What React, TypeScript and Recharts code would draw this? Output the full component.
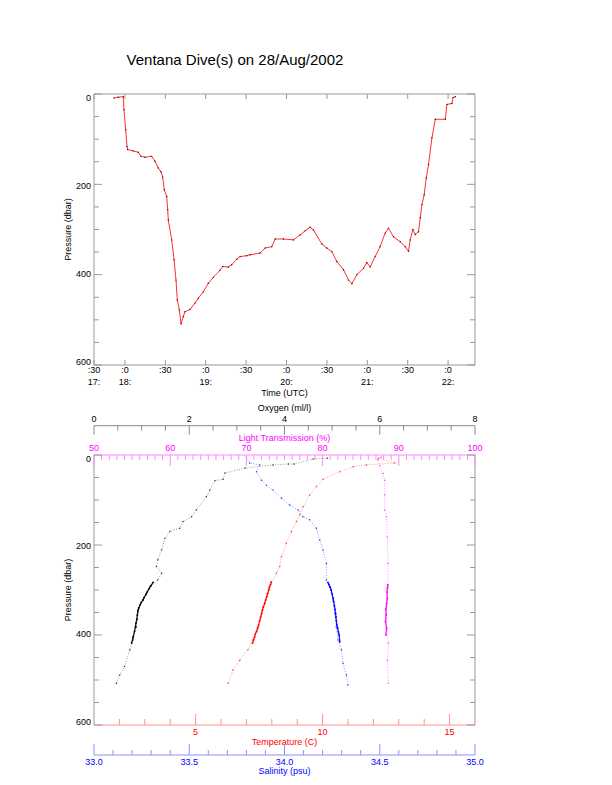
import React from 'react';
import { ComposedChart, Line, Scatter, XAxis, YAxis, Label } from 'recharts';

const FONT = "'Liberation Sans', Arial, Helvetica, sans-serif";
const FRAME = '#999999';

// ---------- top panel: dive track ----------
const diveTime = [
  17.864, 17.917, 17.979, 17.988, 18.009, 18.025, 18.033, 18.103, 18.165, 18.198,
  18.248, 18.331, 18.372, 18.413, 18.446, 18.467, 18.487, 18.517, 18.529, 18.537,
  18.579, 18.608, 18.632, 18.648, 18.673, 18.694, 18.722, 18.743, 18.805, 18.867,
  18.908, 18.97, 19.032, 19.094, 19.177, 19.21, 19.28, 19.322, 19.384, 19.425,
  19.508, 19.549, 19.673, 19.735, 19.818, 19.859, 19.962, 20.086, 20.169, 20.23,
  20.292, 20.333, 20.437, 20.499, 20.561, 20.623, 20.705, 20.767, 20.809, 20.871,
  20.953, 20.994, 21.035, 21.097, 21.159, 21.221, 21.262, 21.324, 21.407, 21.469,
  21.51, 21.531, 21.564, 21.593, 21.634, 21.655, 21.676, 21.704, 21.729, 21.758,
  21.8, 21.841, 21.965, 21.986, 22.048, 22.061, 22.089,
];
const divePressure = [
  9, 7, 6, 35, 79, 116, 123, 126, 129, 138,
  140, 138, 149, 164, 172, 184, 212, 227, 256, 279,
  323, 367, 412, 456, 478, 509, 493, 482, 477, 463,
  452, 438, 419, 406, 390, 382, 383, 378, 366, 360,
  358, 356, 352, 341, 338, 321, 321, 323, 312, 303,
  295, 301, 332, 341, 349, 371, 389, 412, 420, 400,
  386, 373, 383, 360, 338, 308, 297, 316, 327, 338,
  348, 323, 300, 311, 305, 274, 245, 223, 186, 156,
  97, 56, 56, 23, 21, 8, 6,
];

const timeDomain = [17.617, 22.333];
const timeTicks = [17.617, 18, 18.5, 19, 19.5, 20, 20.5, 21, 21.5, 22];
const timeTickMinute = [':30', ':0', ':30', ':0', ':30', ':0', ':30', ':0', ':30', ':0'];
const timeTickHour = ['17:', '18:', '', '19:', '', '20:', '', '21:', '', '22:'];

const pressureTicks = [0, 50, 100, 150, 200, 250, 300, 350, 400, 450, 500, 550, 600];

// ---------- bottom panel: profiles ----------
const oxygenValue = [
  4.9, 4.6, 4.2, 4.08, 3.76, 3.17, 2.75, 2.71, 2.54, 2.43, 2.36, 2.15, 2.05, 1.87, 1.8, 1.59,
  1.49, 1.42, 1.34, 1.31, 1.42, 1.34, 1.17, 1.1, 1.03, 0.92, 0.89, 0.82, 0.75, 0.64, 0.54, 0.47,
];
const oxygenPressure = [
  7, 9, 20, 20, 22, 29, 40, 54, 57, 78, 93, 122, 137, 148, 163, 170,
  185, 211, 233, 248, 263, 278, 293, 307, 322, 344, 382, 411, 433, 470, 489, 507,
];
const oxygenDenseValue = [1.24, 1.2, 1.15, 1.12, 1.09, 1.05, 1.03, 0.99, 0.97, 0.94, 0.92, 0.91, 0.9, 0.88, 0.87, 0.85, 0.82, 0.79];
const oxygenDensePressure = [283, 290, 298, 304, 310, 317, 322, 328, 333, 340, 348, 356, 365, 374, 382, 392, 405, 418];

const temperatureValue = [
  12.2, 12.84, 11.72, 11.2, 10.67, 10.02, 9.76, 9.49, 9.23, 9.1, 8.97, 8.77, 8.57,
  8.38, 8.31, 8.18, 7.92, 7.85, 7.65, 7.46, 7.26, 7.06, 6.74, 6.47, 6.28,
];
const temperaturePressure = [
  7, 18, 22, 26, 37, 54, 70, 89, 115, 133, 148, 170, 196,
  226, 248, 263, 293, 307, 337, 382, 411, 433, 456, 478, 507,
];
const temperatureDenseValue = [7.98, 7.95, 7.9, 7.88, 7.83, 7.8, 7.76, 7.72, 7.67, 7.63, 7.6, 7.56, 7.52, 7.48, 7.44, 7.4, 7.35, 7.32, 7.28, 7.24];
const temperatureDensePressure = [282, 288, 294, 300, 308, 315, 322, 330, 338, 345, 352, 360, 369, 378, 385, 392, 398, 405, 411, 418];

const salinityValue = [
  33.8, 33.817, 33.87, 33.853, 33.879, 33.905, 33.94, 33.984, 34.027, 34.071, 34.097, 34.132, 34.167,
  34.185, 34.202, 34.22, 34.22, 34.237, 34.255, 34.264, 34.272, 34.281, 34.299, 34.307, 34.325, 34.333,
];
const salinityPressure = [
  5, 18, 22, 37, 56, 67, 78, 96, 111, 122, 137, 144, 163,
  189, 211, 241, 278, 293, 322, 352, 382, 411, 433, 463, 489, 511,
];
const salinityDenseValue = [34.228, 34.233, 34.24, 34.245, 34.25, 34.255, 34.258, 34.262, 34.265, 34.268, 34.27, 34.272, 34.275, 34.279, 34.283, 34.287, 34.29];
const salinityDensePressure = [283, 288, 294, 300, 309, 318, 326, 335, 343, 352, 360, 368, 377, 385, 393, 400, 415];

const lightValue = [87.7, 87.23, 87.49, 87.93, 88.15, 88.15, 88.15, 88.37, 88.5, 88.58, 88.58, 88.45, 88.28, 88.37, 88.63, 88.5, 88.63];
const lightPressure = [5, 11, 24, 41, 56, 89, 122, 137, 182, 241, 293, 322, 344, 382, 418, 456, 507];
const lightDenseValue = [88.55, 88.5, 88.45, 88.5, 88.4, 88.3, 88.35, 88.25, 88.4, 88.3];
const lightDensePressure = [288, 296, 305, 318, 330, 342, 355, 370, 385, 400];

const oxygenTicks = [0, 0.5, 1, 1.5, 2, 2.5, 3, 3.5, 4, 4.5, 5, 5.5, 6, 6.5, 7, 7.5, 8];
const oxygenLabels = [0, 2, 4, 6, 8];
const lightTicks = Array.from({ length: 51 }, (_, i) => 50 + i);
const lightLabels = [50, 60, 70, 80, 90, 100];
const temperatureTicks = [2, 3, 4, 5, 6, 7, 8, 9, 10, 11, 12, 13, 14, 15];
const temperatureLabels = [5, 10, 15];
const salinityTicks = Array.from({ length: 21 }, (_, i) => Math.round((33 + i * 0.1) * 10) / 10);
const salinityLabels = [33.0, 33.5, 34.0, 34.5, 35.0];

const zip = (xs: number[], ps: number[], key: string) => xs.map((v, i) => ({ [key]: v, p: ps[i] }));
const diveRows = diveTime.map((t, i) => ({ t, p: divePressure[i] }));

const has = (list: number[], v: number) => list.some((l) => Math.abs(l - v) < 1e-6);

type Side = 'left' | 'right' | 'top' | 'bottom';
interface TickSpec {
  side: Side;
  stroke: string;
  color?: string;
  isMajor: (v: number) => boolean;
  majorLen: number;
  minorLen: number;
  gap?: number;
  shift?: (v: number) => number;
  text?: (v: number) => string[] | null;
}

// tick lines point into the plot, labels sit outside
const makeTick = (spec: TickSpec) => (props: any) => {
  const { x, y, payload } = props;
  const v = payload.value as number;
  const len = spec.isMajor(v) ? spec.majorLen : spec.minorLen;
  let x2 = x;
  let y2 = y;
  if (spec.side === 'left') x2 = x + len;
  if (spec.side === 'right') x2 = x - len;
  if (spec.side === 'top') y2 = y + len;
  if (spec.side === 'bottom') y2 = y - len;
  const lines = spec.text ? spec.text(v) : null;
  const gap = spec.gap ?? 6;
  return (
    <g>
      <line x1={x} y1={y} x2={x2} y2={y2} stroke={spec.stroke} strokeWidth={1} />
      {lines &&
        lines.map((s, k) => {
          let tx = x;
          let ty = y;
          let anchor: 'middle' | 'end' = 'middle';
          if (spec.side === 'left') {
            tx = x - gap;
            ty = y + (spec.shift ? spec.shift(v) : 0);
            anchor = 'end';
          } else if (spec.side === 'bottom') {
            ty = y + gap + k * 12.3;
          } else if (spec.side === 'top') {
            ty = y - gap;
          }
          return (
            <text key={k} x={tx} y={ty} dy="0.35em" textAnchor={anchor} fontSize={9} fontFamily={FONT} fill={spec.color ?? '#000'}>
              {s}
            </text>
          );
        })}
    </g>
  );
};

const pressureLeftTick = makeTick({
  side: 'left',
  stroke: FRAME,
  isMajor: (v) => v % 200 === 0,
  majorLen: 8,
  minorLen: 5,
  gap: 3,
  shift: (v) => ((300 - v) / 300) * 3.5,
  text: (v) => (v % 200 === 0 ? [String(v)] : null),
});
const pressureRightTick = makeTick({ side: 'right', stroke: FRAME, isMajor: (v) => v % 200 === 0, majorLen: 8, minorLen: 5 });
const timeBottomTick = makeTick({
  side: 'bottom',
  stroke: FRAME,
  isMajor: () => true,
  majorLen: 5,
  minorLen: 5,
  gap: 5,
  text: (v) => {
    const i = timeTicks.findIndex((t) => Math.abs(t - v) < 1e-6);
    return i < 0 ? null : [timeTickMinute[i], timeTickHour[i]];
  },
});
const timeTopTick = makeTick({ side: 'top', stroke: FRAME, isMajor: () => true, majorLen: 5, minorLen: 5 });

const oxygenTick = makeTick({
  side: 'top',
  stroke: '#8c8c8c',
  isMajor: (v) => has(oxygenLabels, v),
  majorLen: 9,
  minorLen: 5,
  gap: 7.3,
  text: (v) => (has(oxygenLabels, v) ? [String(v)] : null),
});
const lightTick = makeTick({
  side: 'top',
  stroke: '#ff88ff',
  color: '#ff00ff',
  isMajor: (v) => has(lightLabels, v),
  majorLen: 11,
  minorLen: 5,
  gap: 7.3,
  text: (v) => (has(lightLabels, v) ? [String(v)] : null),
});
const temperatureTick = makeTick({
  side: 'bottom',
  stroke: '#ff9090',
  color: '#ff0000',
  isMajor: (v) => has(temperatureLabels, v),
  majorLen: 11,
  minorLen: 6,
  gap: 7,
  text: (v) => (has(temperatureLabels, v) ? [String(v)] : null),
});
const salinityTick = makeTick({
  side: 'bottom',
  stroke: '#9090ff',
  color: '#0000ff',
  isMajor: (v) => has(salinityLabels, v),
  majorLen: 11,
  minorLen: 5,
  gap: 7,
  text: (v) => (has(salinityLabels, v) ? [v.toFixed(1)] : null),
});

const axisTitle = (text: string, dx: number, dy: number, color = '#000', rotate = false) => (props: any) => {
  const vb = props.viewBox || {};
  const cx = rotate ? vb.x + vb.width + dx : vb.x + vb.width / 2 + dx;
  const cy = rotate ? vb.y + vb.height / 2 + dy : vb.y + dy;
  return (
    <text
      x={cx}
      y={cy}
      dy="0.35em"
      textAnchor="middle"
      fontSize={9}
      fontFamily={FONT}
      fill={color}
      transform={rotate ? `rotate(-90 ${cx} ${cy})` : undefined}
    >
      {text}
    </text>
  );
};

const dot = (color: string, r = 0.75) => (props: any) =>
  props.cx == null ? <g /> : <circle cx={props.cx} cy={props.cy} r={r} fill={color} />;

const dotted = (color: string) => ({ stroke: color, strokeWidth: 0.8, strokeDasharray: '1 1.6', strokeOpacity: 0.5 });
const solid = (color: string) => ({ stroke: color, strokeWidth: 1.3, strokeOpacity: 0.9 });

const DiveTrack = () => (
  <ComposedChart width={612} height={400} data={diveRows} margin={{ top: 84, right: 127, bottom: 5, left: 54 }}>
    <XAxis
      xAxisId="b"
      dataKey="t"
      type="number"
      domain={timeDomain}
      ticks={timeTicks}
      interval={0}
      allowDataOverflow
      height={30}
      tickSize={0}
      tickMargin={0}
      axisLine={{ stroke: FRAME }}
      tickLine={false}
      tick={timeBottomTick}
    >
      <Label content={axisTitle('Time (UTC)', 0, 28.3)} />
    </XAxis>
    <XAxis
      xAxisId="t"
      dataKey="t"
      orientation="top"
      type="number"
      domain={timeDomain}
      ticks={timeTicks}
      interval={0}
      allowDataOverflow
      height={10}
      tickSize={0}
      tickMargin={0}
      axisLine={{ stroke: FRAME }}
      tickLine={false}
      tick={timeTopTick}
    />
    <YAxis
      yAxisId="l"
      type="number"
      domain={[0, 600]}
      reversed
      allowDataOverflow
      ticks={pressureTicks}
      interval={0}
      width={40}
      tickSize={0}
      tickMargin={0}
      axisLine={{ stroke: FRAME }}
      tickLine={false}
      tick={pressureLeftTick}
    >
      <Label content={axisTitle('Pressure (dbar)', -26, 0, '#000', true)} />
    </YAxis>
    <YAxis
      yAxisId="r"
      orientation="right"
      type="number"
      domain={[0, 600]}
      reversed
      allowDataOverflow
      ticks={pressureTicks}
      interval={0}
      width={10}
      tickSize={0}
      tickMargin={0}
      axisLine={{ stroke: FRAME }}
      tickLine={false}
      tick={pressureRightTick}
    />
    <Line
      xAxisId="b"
      yAxisId="l"
      dataKey="p"
      type="linear"
      stroke="#ff3030"
      strokeWidth={1}
      dot={{ r: 0.7, fill: '#500000', stroke: 'none' }}
      isAnimationActive={false}
    />
    <Line xAxisId="t" yAxisId="r" dataKey="p" stroke="none" dot={false} isAnimationActive={false} />
  </ComposedChart>
);

// axis ids sort so that a1 / b1 sit next to the plot and a2 / b2 outside
const Profiles = () => (
  <ComposedChart width={612} height={390} margin={{ top: 0, right: 127, bottom: 0, left: 54 }}>
    <XAxis
      xAxisId="a1"
      dataKey="lt"
      orientation="top"
      type="number"
      domain={[50, 100]}
      ticks={lightTicks}
      interval={0}
      allowDataOverflow
      height={29.3}
      tickSize={0}
      tickMargin={0}
      axisLine={{ stroke: '#ff88ff' }}
      tickLine={false}
      tick={lightTick}
    >
      <Label content={axisTitle('Light Transmission (%)', 0, 12.4, '#ff00ff')} />
    </XAxis>
    <XAxis
      xAxisId="a2"
      dataKey="ox"
      orientation="top"
      type="number"
      domain={[0, 8]}
      ticks={oxygenTicks}
      interval={0}
      allowDataOverflow
      height={30.7}
      tickSize={0}
      tickMargin={0}
      axisLine={{ stroke: '#8c8c8c' }}
      tickLine={false}
      tick={oxygenTick}
    >
      <Label content={axisTitle('Oxygen (ml/l)', 0, 13.2)} />
    </XAxis>
    <XAxis
      xAxisId="b1"
      dataKey="tc"
      type="number"
      domain={[1, 16]}
      ticks={temperatureTicks}
      interval={0}
      allowDataOverflow
      height={30}
      tickSize={0}
      tickMargin={0}
      axisLine={{ stroke: '#ff9090' }}
      tickLine={false}
      tick={temperatureTick}
    >
      <Label content={axisTitle('Temperature (C)', 0, 17.3, '#ff0000')} />
    </XAxis>
    <XAxis
      xAxisId="b2"
      dataKey="sal"
      type="number"
      domain={[33, 35]}
      ticks={salinityTicks}
      interval={0}
      allowDataOverflow
      height={30}
      tickSize={0}
      tickMargin={0}
      axisLine={{ stroke: '#9090ff' }}
      tickLine={false}
      tick={salinityTick}
    >
      <Label content={axisTitle('Salinity (psu)', 0, 16, '#0000ff')} />
    </XAxis>
    <YAxis
      yAxisId="l"
      dataKey="p"
      type="number"
      domain={[0, 600]}
      reversed
      allowDataOverflow
      ticks={pressureTicks}
      interval={0}
      width={40}
      tickSize={0}
      tickMargin={0}
      axisLine={{ stroke: FRAME }}
      tickLine={false}
      tick={pressureLeftTick}
    >
      <Label content={axisTitle('Pressure (dbar)', -26, 0, '#000', true)} />
    </YAxis>
    <YAxis
      yAxisId="r"
      dataKey="p"
      orientation="right"
      type="number"
      domain={[0, 600]}
      reversed
      allowDataOverflow
      ticks={pressureTicks}
      interval={0}
      width={10}
      tickSize={0}
      tickMargin={0}
      axisLine={{ stroke: FRAME }}
      tickLine={false}
      tick={pressureRightTick}
    />

    <Scatter xAxisId="a2" yAxisId="l" data={zip(oxygenValue, oxygenPressure, 'ox')} line={dotted('#000')} shape={dot('#333')} isAnimationActive={false} />
    <Scatter xAxisId="a2" yAxisId="l" data={zip(oxygenDenseValue, oxygenDensePressure, 'ox')} line={solid('#000')} shape={dot('#000', 0.9)} isAnimationActive={false} />

    <Scatter xAxisId="b1" yAxisId="l" data={zip(temperatureValue, temperaturePressure, 'tc')} line={dotted('#ff0000')} shape={dot('#ff3030')} isAnimationActive={false} />
    <Scatter xAxisId="b1" yAxisId="l" data={zip(temperatureDenseValue, temperatureDensePressure, 'tc')} line={solid('#ff0000')} shape={dot('#ff0000', 0.9)} isAnimationActive={false} />

    <Scatter xAxisId="b2" yAxisId="l" data={zip(salinityValue, salinityPressure, 'sal')} line={dotted('#0000ff')} shape={dot('#3030ff')} isAnimationActive={false} />
    <Scatter xAxisId="b2" yAxisId="l" data={zip(salinityDenseValue, salinityDensePressure, 'sal')} line={solid('#0000ff')} shape={dot('#0000ff', 0.9)} isAnimationActive={false} />

    <Scatter xAxisId="a1" yAxisId="l" data={zip(lightValue, lightPressure, 'lt')} line={dotted('#ff00ff')} shape={dot('#ff40ff')} isAnimationActive={false} />
    <Scatter xAxisId="a1" yAxisId="r" data={zip(lightDenseValue, lightDensePressure, 'lt')} line={solid('#ff00ff')} shape={dot('#ff00ff', 0.9)} isAnimationActive={false} />
  </ComposedChart>
);

export default function App() {
  return (
    <div style={{ position: 'absolute', left: 0, top: 0, width: 612, height: 785, background: '#fff', overflow: 'hidden' }}>
      <div
        style={{
          position: 'absolute',
          left: 0,
          top: 51,
          width: 470,
          textAlign: 'center',
          fontFamily: FONT,
          fontSize: 15,
          lineHeight: '18px',
          color: '#000',
        }}
      >
        Ventana Dive(s) on 28/Aug/2002
      </div>
      <div style={{ position: 'absolute', left: 0, top: 0 }}>
        <DiveTrack />
      </div>
      <div style={{ position: 'absolute', left: 0, top: 395 }}>
        <Profiles />
      </div>
    </div>
  );
}
